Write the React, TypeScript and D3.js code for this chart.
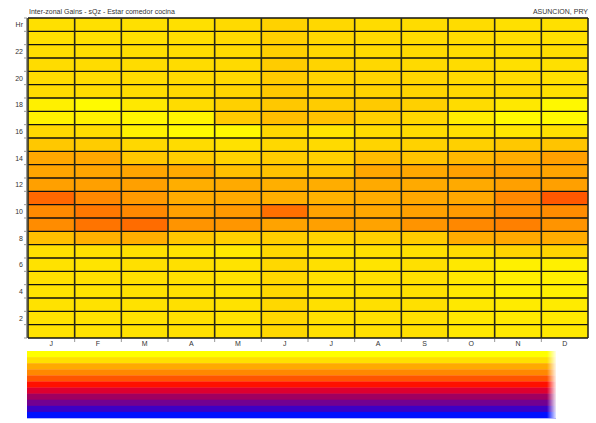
import { useEffect, useRef } from 'react';
import * as d3 from 'd3';

const MONTHS = ['J', 'F', 'M', 'A', 'M', 'J', 'J', 'A', 'S', 'O', 'N', 'D'];
const HOURS = d3.range(24, 0, -1); // top row = hour 24
const HOUR_LABELS: Record<number, string> = { 24: 'Hr', 22: '22', 20: '20', 18: '18', 16: '16', 14: '14', 12: '12', 10: '10', 8: '8', 6: '6', 4: '4', 2: '2' };

// legend levels, top (low) to bottom (high)
const LEGEND_COLORS = [
  '#ffff00', '#ffe000', '#ffaa00', '#ff8800', '#ff5500', '#ff1000',
  '#dd0030', '#a00060', '#720090', '#3c00c4', '#0010ff',
];

// gain level per hour (24 -> 1), per month J..D
const GAINS: number[][] = [
  [1.0, 1.0, 1.0, 1.0, 1.11, 1.26, 1.15, 1.07, 1.07, 1.07, 1.0, 1.0],
  [1.0, 1.0, 1.0, 1.03, 1.11, 1.3, 1.15, 1.11, 1.07, 1.07, 1.03, 1.0],
  [1.03, 1.03, 1.03, 1.07, 1.11, 1.3, 1.15, 1.11, 1.11, 1.07, 1.03, 1.03],
  [1.07, 1.07, 1.07, 1.07, 1.11, 1.37, 1.22, 1.15, 1.11, 1.07, 1.0, 1.0],
  [1.07, 1.07, 1.07, 1.11, 1.15, 1.38, 1.22, 1.22, 1.19, 1.11, 1.07, 1.0],
  [1.07, 1.07, 1.07, 1.15, 1.22, 1.44, 1.3, 1.26, 1.22, 1.15, 1.11, 1.0],
  [0.48, 0.16, 0.74, 1.07, 1.3, 1.44, 1.37, 1.41, 1.3, 1.07, 0.74, 0.23],
  [0.42, 0.48, 0.32, 0.32, 1.41, 1.63, 1.56, 1.3, 1.15, 0.61, 0.16, 0.16],
  [1.15, 1.07, 0.48, 0.16, 0.23, 1.15, 0.87, 1.07, 1.07, 1.0, 0.8, 1.0],
  [1.44, 1.37, 1.15, 1.07, 0.97, 1.15, 1.11, 1.22, 1.26, 1.3, 1.44, 1.52],
  [2.06, 2.06, 1.44, 1.35, 1.26, 1.37, 1.3, 1.67, 1.52, 1.74, 1.96, 2.29],
  [2.15, 2.15, 2.15, 2.0, 1.59, 1.56, 1.52, 2.1, 2.06, 2.29, 2.29, 2.18],
  [2.29, 2.29, 2.29, 1.93, 2.0, 1.9, 1.95, 2.0, 2.0, 2.0, 2.29, 2.29],
  [3.63, 3.0, 2.47, 1.96, 2.0, 1.9, 1.85, 1.96, 2.06, 2.06, 3.0, 3.94],
  [2.94, 3.31, 3.0, 2.29, 2.5, 3.47, 2.25, 2.1, 2.29, 2.47, 2.88, 2.88],
  [2.88, 3.39, 3.55, 2.65, 2.6, 2.2, 2.3, 2.2, 2.65, 3.0, 3.16, 2.65],
  [1.59, 1.89, 1.93, 1.44, 1.3, 1.33, 1.25, 1.3, 1.37, 1.96, 2.06, 1.96],
  [1.0, 1.0, 1.0, 0.87, 0.7, 1.15, 1.0, 1.0, 1.0, 1.07, 1.22, 1.22],
  [0.94, 0.87, 1.0, 1.0, 0.9, 1.15, 1.0, 0.87, 1.0, 0.74, 0.48, 0.48],
  [1.0, 1.0, 1.0, 1.0, 0.95, 1.15, 1.0, 1.0, 1.0, 0.74, 0.48, 0.48],
  [0.9, 0.9, 0.95, 1.0, 0.9, 1.15, 0.97, 1.0, 1.0, 0.74, 0.48, 0.48],
  [0.95, 0.95, 0.95, 1.0, 0.95, 1.15, 1.0, 1.0, 1.0, 0.74, 0.65, 0.65],
  [0.95, 0.95, 0.95, 1.0, 0.95, 1.15, 1.0, 1.0, 1.0, 0.74, 0.7, 0.7],
  [0.95, 0.95, 0.95, 1.0, 0.95, 1.15, 1.0, 1.0, 1.0, 0.74, 0.7, 0.7],
];

const W = 596;
const H = 423;
const PLOT = { left: 28, right: 588, top: 18, bottom: 338 };
const LEGEND = { left: 27, right: 556, top: 351, bottom: 418 };
const FONT = '"Liberation Sans", Arial, sans-serif';

export default function App() {
  const svgRef = useRef<SVGSVGElement>(null);

  useEffect(() => {
    const svg = d3.select(svgRef.current);
    svg.selectAll('*').remove();

    const x = d3.scaleBand<number>().domain(d3.range(12)).range([PLOT.left, PLOT.right]);
    const y = d3.scaleBand<number>().domain(HOURS).range([PLOT.top, PLOT.bottom]);
    const color = d3
      .scaleLinear<string>()
      .domain(d3.range(LEGEND_COLORS.length))
      .range(LEGEND_COLORS)
      .clamp(true);

    const defs = svg.append('defs');
    const fade = defs.append('linearGradient').attr('id', 'fade');
    fade.append('stop').attr('offset', 0).attr('stop-color', '#fff').attr('stop-opacity', 0);
    fade.append('stop').attr('offset', 1).attr('stop-color', '#fff').attr('stop-opacity', 1);

    // titles
    svg.append('text').attr('x', 29).attr('y', 14).attr('font-family', FONT).attr('font-size', 7)
      .attr('fill', '#333').text('Inter-zonal Gains - sQz - Estar comedor cocina');
    svg.append('text').attr('x', PLOT.right).attr('y', 14).attr('text-anchor', 'end').attr('font-family', FONT)
      .attr('font-size', 7).attr('fill', '#333').text('ASUNCION, PRY');

    // cells
    const cells = svg.append('g');
    GAINS.forEach((row, i) => {
      row.forEach((v, j) => {
        cells.append('rect')
          .attr('x', x(j)!).attr('y', y(HOURS[i])!)
          .attr('width', x.bandwidth()).attr('height', y.bandwidth())
          .attr('fill', color(v));
      });
    });

    // grid lines
    const grid = svg.append('g').attr('stroke', '#111');
    HOURS.concat([0]).forEach((h, i) => {
      const yy = PLOT.top + i * y.bandwidth();
      grid.append('line').attr('x1', PLOT.left).attr('x2', PLOT.right).attr('y1', yy).attr('y2', yy).attr('stroke-width', 1.3);
    });
    d3.range(13).forEach((j) => {
      const xx = PLOT.left + j * x.bandwidth();
      grid.append('line').attr('x1', xx).attr('x2', xx).attr('y1', PLOT.top).attr('y2', PLOT.bottom)
        .attr('stroke', '#2a2a1a').attr('stroke-width', 1.6);
    });

    // left axis
    const axis = svg.append('g').attr('stroke', '#999');
    axis.append('line').attr('x1', PLOT.left - 1.5).attr('x2', PLOT.left - 1.5).attr('y1', PLOT.top).attr('y2', PLOT.bottom);
    d3.range(25).forEach((i) => {
      const yy = PLOT.top + i * y.bandwidth();
      axis.append('line').attr('x1', PLOT.left - 4).attr('x2', PLOT.left - 1).attr('y1', yy).attr('y2', yy);
    });
    HOURS.forEach((h) => {
      const lab = HOUR_LABELS[h];
      if (!lab) return;
      svg.append('text').attr('x', 23).attr('y', y(h)! + y.bandwidth() / 2 + 2.5).attr('text-anchor', 'end')
        .attr('font-family', FONT).attr('font-size', 7).attr('fill', '#333').text(lab);
    });

    // bottom axis
    d3.range(1, 12).forEach((j) => {
      const xx = PLOT.left + j * x.bandwidth();
      axis.append('line').attr('x1', xx).attr('x2', xx).attr('y1', PLOT.bottom + 1).attr('y2', PLOT.bottom + 4);
    });
    MONTHS.forEach((m, j) => {
      svg.append('text').attr('x', x(j)! + x.bandwidth() / 2).attr('y', 346).attr('text-anchor', 'middle')
        .attr('font-family', FONT).attr('font-size', 7).attr('fill', '#333').text(m);
    });

    // legend bands
    const ly = d3.scaleBand<number>().domain(d3.range(LEGEND_COLORS.length)).range([LEGEND.top, LEGEND.bottom]);
    LEGEND_COLORS.forEach((c, i) => {
      svg.append('rect').attr('x', LEGEND.left).attr('y', ly(i)!).attr('width', LEGEND.right - LEGEND.left)
        .attr('height', ly.bandwidth() + 0.3).attr('fill', c);
    });
    svg.append('rect').attr('x', LEGEND.right - 9).attr('y', LEGEND.top).attr('width', 10)
      .attr('height', LEGEND.bottom - LEGEND.top).attr('fill', 'url(#fade)');
  }, []);

  return (
    <svg
      ref={svgRef}
      width={W}
      height={H}
      style={{ position: 'absolute', left: 0, top: 0, background: '#fff' }}
    />
  );
}
